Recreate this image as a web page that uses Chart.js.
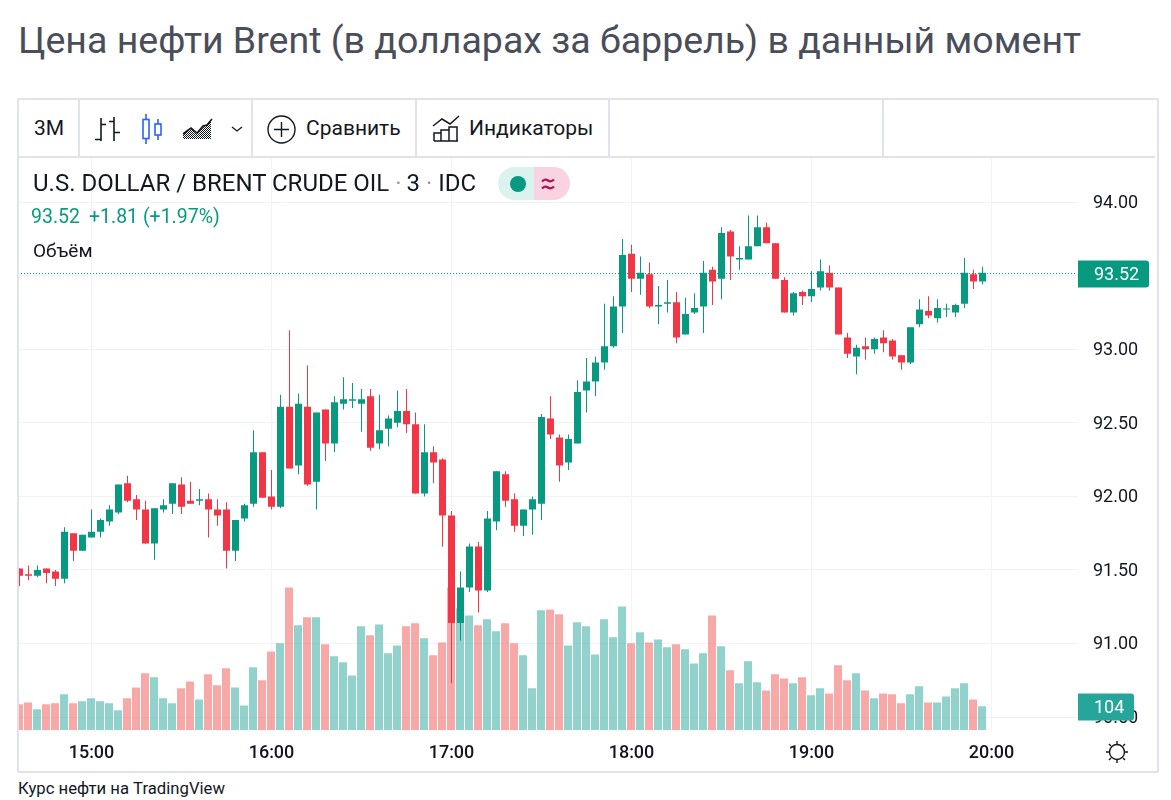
<!DOCTYPE html>
<html lang="ru">
<head>
<meta charset="utf-8">
<title>Цена нефти Brent</title>
<script src="https://cdn.jsdelivr.net/npm/chart.js@4"></script>
<style>
  html, body { margin: 0; padding: 0; background: #fff; font-family: Roboto, sans-serif; }
  body { position: relative; width: 1171px; height: 800px; overflow: hidden; }
  .abs { position: absolute; white-space: nowrap; }
  h1 { margin: 0; font-weight: 400; font-size: 37.5px; line-height: 44px; color: #4a4d5a; left: 18px; top: 18px; }
  #frame { left: 17px; top: 98px; width: 1138px; height: 671px; border: 2px solid #e0e3eb; border-radius: 2px; box-sizing: content-box; }
  #toolbarLine { left: 19px; top: 156px; width: 1136px; height: 2px; background: #e0e3eb; }
  .sep { top: 100px; width: 2px; height: 57px; background: #e0e3eb; }
  .tool { top: 114px; font-size: 21px; line-height: 28px; color: #131722; }
  #pane { left: 19px; top: 158px; width: 1136px; height: 613px; overflow: hidden; }
  #chart { position: absolute; left: -19px; top: 0; }
  .legend { font-size: 24px; line-height: 28px; color: #131722; }
  .legend span { color: #9598a1; }
  #pill { left: 498px; top: 167px; width: 72px; height: 33px; border-radius: 17px; overflow: hidden; }
  #pill div { position: absolute; top: 0; height: 33px; }
  #footer { left: 18px; top: 779px; font-size: 16.700px; line-height: 19px; color: #131722; }
  svg { position: absolute; overflow: visible; }
</style>
</head>
<body>
<h1 class="abs">Цена нефти Brent (в долларах за баррель) в данный момент</h1>

<div id="frame" class="abs"></div>
<div id="toolbarLine" class="abs"></div>
<div class="abs sep" style="left:78px"></div>
<div class="abs sep" style="left:251px"></div>
<div class="abs sep" style="left:415px"></div>
<div class="abs sep" style="left:608px"></div>
<div class="abs sep" style="left:882px"></div>

<div class="abs tool" style="left:34px">3М</div>
<div class="abs tool" style="left:306px">Сравнить</div>
<div class="abs tool" style="left:469px">Индикаторы</div>

<!-- toolbar icons -->
<svg style="left:0;top:0" width="1" height="1" fill="none">
  <defs>
    <pattern id="dots" width="2" height="2" patternUnits="userSpaceOnUse">
      <rect width="1" height="1" fill="#131722"/>
      <rect x="1" y="1" width="1" height="1" fill="#131722"/>
    </pattern>
  </defs>
  <!-- bars -->
  <path d="M101 118v23M95 139.500h6M101 124.500h5M114 117v24M109 121.500h5M114 132.500h6" stroke="#131722" stroke-width="1.6"/>
  <!-- candles -->
  <path d="M146 114v6M146 138v6M158 119v5M158 135v5" stroke="#2962ff" stroke-width="1.6"/>
  <rect x="143" y="119.500" width="6" height="19" stroke="#2962ff" stroke-width="1.6"/>
  <rect x="155" y="124" width="6" height="11" stroke="#2962ff" stroke-width="1.6"/>
  <!-- area -->
  <path d="M183 139v-5l8-6 6 5 6-7 4-1 4-6v20z" fill="url(#dots)"/>
  <path d="M183 134l8-6 6 5 6-7 4-1 5-6" stroke="#131722" stroke-width="1.6"/>
  <!-- chevron -->
  <path d="M232 127l5 4 5-4" stroke="#131722" stroke-width="1.3"/>
  <!-- compare -->
  <circle cx="281.500" cy="129.500" r="13.500" stroke="#131722" stroke-width="1.4"/>
  <path d="M281.500 122v15M274 129.500h15" stroke="#131722" stroke-width="1.4"/>
  <!-- indicators -->
  <path d="M433 126l9-7 8 5 9-8" stroke="#131722" stroke-width="1.5"/>
  <path d="M434 141v-8h7v8M441 141v-11h8v11M449 141v-14h8v14M434 141h24" stroke="#131722" stroke-width="1.5"/>
  <!-- settings sun -->
  <circle cx="1117" cy="752" r="7.500" stroke="#131722" stroke-width="1.4"/>
  <path d="M1117 741v3M1117 760v3M1106 752h3M1125 752h3M1109 744l2 2M1123 758l2 2M1125 744l-2 2M1111 758l-2 2" stroke="#131722" stroke-width="1.4"/>
</svg>

<div id="pane" class="abs"><canvas id="chart" width="1155" height="613"></canvas></div>

<div class="abs legend" style="left:33px;top:169px">U.S. DOLLAR / BRENT CRUDE OIL<span style="margin:0 5px 0 6px">·</span>3<span style="margin:0 6px 0 6px">·</span>IDC</div>
<div id="pill" class="abs">
  <div style="left:0;width:36px;background:#dcf2ee"></div>
  <div style="left:36px;width:36px;background:#f9d3e2"></div>
  <svg style="left:0;top:0" width="1" height="1">
    <circle cx="20" cy="17" r="8" fill="#089981"/>
    <path d="M44 14.500q3-3 6 -1t6 -1M44 21.500q3-3 6 -1t6 -1" fill="none" stroke="#b0124f" stroke-width="2.200"/>
  </svg>
</div>
<div class="abs" style="left:31px;top:204px;font-size:19.500px;line-height:26px;color:#089981">93.52<span style="margin-left:9px">+1.81 (+1.97%)</span></div>
<div class="abs" style="left:33px;top:238px;font-size:19px;line-height:26px;color:#131722">Объём</div>

<div id="footer" class="abs">Курс нефти на TradingView</div>

<script>
const times = [
  '14:36','14:39','14:42','14:45','14:48','14:51','14:54','14:57','15:00','15:03','15:06','15:09','15:12','15:15','15:18','15:21','15:24','15:27','15:30','15:33',
  '15:36','15:39','15:42','15:45','15:48','15:51','15:54','15:57','16:00','16:03','16:06','16:09','16:12','16:15','16:18','16:21','16:24','16:27','16:30','16:33',
  '16:36','16:39','16:42','16:45','16:48','16:51','16:54','16:57','17:00','17:03','17:06','17:09','17:12','17:15','17:18','17:21','17:24','17:27','17:30','17:33',
  '17:36','17:39','17:42','17:45','17:48','17:51','17:54','17:57','18:00','18:03','18:06','18:09','18:12','18:15','18:18','18:21','18:24','18:27','18:30','18:33',
  '18:36','18:39','18:42','18:45','18:48','18:51','18:54','18:57','19:00','19:03','19:06','19:09','19:12','19:15','19:18','19:21','19:24','19:27','19:30','19:33',
  '19:36','19:39','19:42','19:45','19:48','19:51','19:54','19:57','20:00','20:03','20:06','20:09','20:12','20:15','20:18','20:21','20:24','20:27'
];
const opens = [
  91.51,91.47,91.46,91.51,91.49,91.44,91.75,91.63,91.72,91.76,91.83,91.89,92.09,91.98,91.91,91.68,91.91,91.95,92.08,91.97,
  91.97,91.98,91.91,91.91,91.63,91.85,91.95,92.30,92.00,91.93,92.61,92.21,92.61,92.10,92.59,92.36,92.63,92.65,92.63,92.68,
  92.36,92.46,92.50,92.58,92.49,92.02,92.30,92.25,91.87,91.14,91.38,91.66,91.36,91.83,92.15,91.98,91.80,91.91,91.95,92.53,
  92.40,92.23,92.36,92.72,92.78,92.91,93.02,93.29,93.65,93.48,93.51,93.29,93.31,93.32,93.10,93.25,93.29,93.54,93.48,93.80,
  93.61,93.61,93.70,93.83,93.72,93.47,93.25,93.39,93.36,93.42,93.52,93.42,93.08,92.95,93.02,93.00,93.08,93.06,92.96,92.91,
  93.17,93.26,93.21,93.27,93.25,93.31,93.51,93.46
];
const closes = [
  91.46,91.46,91.50,91.48,91.44,91.76,91.63,91.74,91.76,91.84,91.91,92.08,91.97,91.91,91.68,91.92,91.94,92.09,91.93,91.95,
  91.98,91.91,91.87,91.63,91.84,91.94,92.30,91.99,91.93,92.61,92.19,92.63,92.08,92.57,92.36,92.64,92.66,92.66,92.66,92.33,
  92.45,92.53,92.58,92.49,92.02,92.30,92.23,91.87,91.14,91.38,91.66,91.36,91.85,92.17,91.97,91.80,91.91,91.98,92.54,92.42,
  92.21,92.39,92.71,92.78,92.91,93.02,93.29,93.64,93.48,93.52,93.29,93.30,93.32,93.08,93.24,93.28,93.52,93.46,93.79,93.63,
  93.62,93.70,93.83,93.72,93.48,93.25,93.38,93.36,93.41,93.53,93.42,93.10,92.97,93.01,93.00,93.07,93.04,92.95,92.91,93.15,
  93.27,93.23,93.28,93.27,93.30,93.52,93.46,93.52
];
const highs = [
  91.51,91.53,91.53,91.51,91.50,91.79,91.75,91.74,91.91,91.85,91.94,92.08,92.14,92.01,91.97,91.92,91.98,92.09,92.13,92.10,
  92.05,92.02,91.98,91.96,91.84,91.95,92.45,92.30,92.18,92.69,93.13,92.70,92.89,92.57,92.59,92.68,92.81,92.77,92.73,92.73,
  92.69,92.55,92.72,92.73,92.57,92.49,92.34,92.26,91.90,91.49,91.68,91.69,91.90,92.17,92.17,92.02,91.91,92.00,92.56,92.68,
  92.42,92.42,92.79,92.94,92.95,93.31,93.36,93.75,93.71,93.63,93.59,93.43,93.47,93.39,93.35,93.38,93.60,93.56,93.83,93.81,
  93.70,93.91,93.91,93.86,93.72,93.49,93.39,93.40,93.53,93.61,93.57,93.42,93.11,93.03,93.08,93.08,93.13,93.07,92.96,93.15,
  93.34,93.36,93.34,93.31,93.31,93.62,93.54,93.56
];
const lows = [
  91.39,91.43,91.45,91.41,91.39,91.41,91.56,91.63,91.72,91.72,91.80,91.88,91.96,91.84,91.68,91.57,91.89,91.88,91.88,91.95,
  91.94,91.72,91.80,91.51,91.56,91.83,91.93,91.99,91.91,91.92,92.19,92.15,92.07,91.91,92.24,92.30,92.59,92.60,92.44,92.31,
  92.32,92.34,92.47,92.43,92.02,92.00,92.09,91.66,90.73,91.02,91.35,91.21,91.35,91.77,91.93,91.76,91.73,91.74,91.84,92.39,
  92.10,92.18,92.36,92.57,92.68,92.86,93.01,93.11,93.39,93.37,93.28,93.17,93.25,93.04,93.10,93.24,93.11,93.30,93.34,93.47,
  93.54,93.61,93.70,93.72,93.48,93.25,93.23,93.30,93.32,93.40,93.40,93.10,92.94,92.83,92.93,92.97,92.98,92.93,92.86,92.90,
  93.15,93.21,93.18,93.22,93.22,93.28,93.41,93.44
];
const volumes = [
  113,121,91,113,117,156,117,126,139,126,117,87,139,186,247,230,139,117,182,212,
  134,243,195,269,186,108,273,217,342,377,619,455,490,490,373,321,295,238,451,412,
  459,334,368,451,464,399,325,381,619,529,498,455,481,429,464,377,325,182,520,524,
  503,368,468,451,329,481,403,537,377,425,381,394,360,373,351,290,334,498,364,260,
  204,299,208,173,243,225,204,230,152,182,160,282,217,247,173,139,160,156,117,156,
  191,121,121,147,182,204,134,104
];
const priceTicks = [90.5, 91, 91.5, 92, 92.5, 93, 93.5, 94];
const hourTicks = ['15:00', '16:00', '17:00', '18:00', '19:00', '20:00'];
const lastPrice = 93.52;
const lastVolume = 104;

const upColor = '#089981';
const downColor = '#f23645';
const isUp = closes.map((c, i) => c >= opens[i]);
const gridColor = '#f0f3fa';

function priceTag(ctx, yPx, x, width, text, color, textX) {
  ctx.fillStyle = color;
  ctx.beginPath();
  ctx.roundRect(x, Math.round(yPx) - 13.5, width, 27, [0, 3, 3, 0]);
  ctx.fill();
  ctx.fillStyle = '#fff';
  ctx.font = '18px Roboto';
  ctx.textAlign = 'left';
  ctx.textBaseline = 'middle';
  ctx.fillText(text, textX, Math.round(yPx) + 1);
}

// dotted last price line and the two tags on the price axis
const lastPricePlugin = {
  id: 'lastPrice',
  afterDraw(chart) {
    const { ctx, chartArea, scales } = chart;
    const y = Math.round(scales.y.getPixelForValue(lastPrice)) + 0.5;
    ctx.save();
    ctx.strokeStyle = upColor;
    ctx.setLineDash([1, 2]);
    ctx.beginPath();
    ctx.moveTo(chartArea.left, y);
    ctx.lineTo(chartArea.right, y);
    ctx.stroke();
    ctx.setLineDash([]);
    priceTag(ctx, y, chartArea.right + 1, 71, String(lastPrice), upColor, 1094);
    const volY = scales.y.getPixelForValue(90.5) - 10;
    priceTag(ctx, volY, chartArea.right + 1, 56, String(lastVolume), '#26a69a', 1094);
    ctx.restore();
  }
};

// volume bars sit on whole pixels, half a pixel left of the candles
const volumeShift = {
  id: 'volumeShift',
  beforeDatasetDraw(chart, args) {
    if (args.index === 2) {
      chart.ctx.save();
      chart.ctx.translate(-0.5, 0);
    }
  },
  afterDatasetDraw(chart, args) {
    if (args.index === 2) chart.ctx.restore();
  }
};

new Chart(document.getElementById('chart'), {
  type: 'bar',
  plugins: [lastPricePlugin, volumeShift],
  data: {
    labels: times,
    datasets: [
      {
        label: 'Body',
        data: closes.map((c, i) => [opens[i], c]),
        backgroundColor: isUp.map(up => up ? upColor : downColor),
        barThickness: 7,
        minBarLength: 1,
        order: 1,
        yAxisID: 'y'
      },
      {
        label: 'Wick',
        data: highs.map((h, i) => [lows[i], h]),
        backgroundColor: isUp.map(up => up ? upColor : downColor),
        barThickness: 1,
        order: 2,
        yAxisID: 'y'
      },
      {
        label: 'Объём',
        data: volumes,
        backgroundColor: isUp.map(up => up ? 'rgba(38,166,154,0.5)' : 'rgba(239,83,80,0.5)'),
        barThickness: 8,
        order: 3,
        yAxisID: 'yVol'
      }
    ]
  },
  options: {
    responsive: false,
    animation: false,
    events: [],
    layout: { autoPadding: false, padding: { left: 15, top: 0, right: 0, bottom: 0 } },
    datasets: { bar: { grouped: false, inflateAmount: 0, borderWidth: 0, borderSkipped: false } },
    plugins: { legend: { display: false }, tooltip: { enabled: false } },
    scales: {
      x: {
        type: 'category',
        offset: true,
        border: { display: false },
        grid: { offset: false, color: gridColor, drawTicks: false },
        afterBuildTicks(scale) {
          scale.ticks = scale.ticks.filter(t => hourTicks.includes(times[t.value]));
        },
        afterFit(scale) { scale.height = 40.7; },
        ticks: {
          autoSkip: false,
          maxRotation: 0,
          padding: 12,
          color: '#131722',
          font: { family: 'Roboto', size: 18, weight: '500' }
        }
      },
      y: {
        position: 'right',
        min: 90.41,
        max: 94.30,
        border: { display: false },
        grid: { color: gridColor, tickLength: 1, tickColor: gridColor },
        afterBuildTicks(scale) {
          scale.ticks = priceTicks.map(v => ({ value: v }));
        },
        afterFit(scale) {
          scale.width = 78;
          scale.paddingTop = 0;
          scale.paddingBottom = 0;
        },
        ticks: {
          padding: 15,
          crossAlign: 'near',
          color: '#131722',
          font: { family: 'Roboto', size: 18, lineHeight: '3px' },
          // empty first line nudges the label down onto its grid line
          callback: v => ['', v.toFixed(2)]
        }
      },
      yVol: {
        display: false,
        min: 0,
        max: 2480
      }
    }
  }
});
</script>
</body>
</html>
